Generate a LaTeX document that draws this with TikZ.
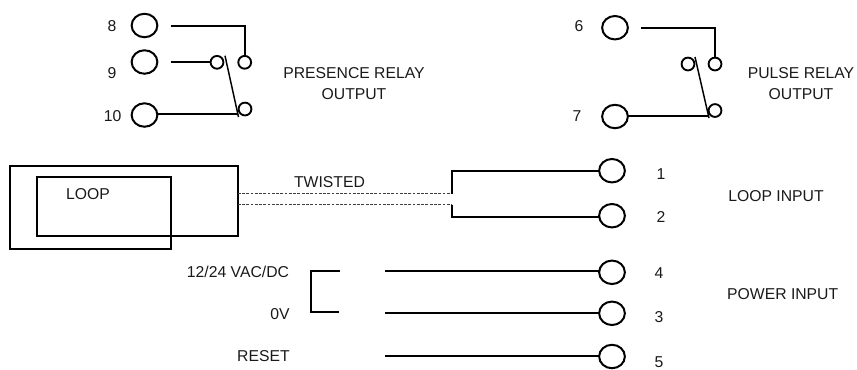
\documentclass[tikz,border=0pt]{standalone}
\usepackage{fontspec}
\setmainfont{Liberation Sans}
\usetikzlibrary{shapes.geometric}
\tikzset{
  x=0.75pt,y=-0.75pt,
  wire/.style={line width=1.5pt,line join=miter},
  thin wire/.style={line width=1.1pt},
  twisted/.style={line width=0.8pt,dash pattern=on 2.1pt off 1.1pt,draw=black!75},
  terminal/.style={draw,ellipse,line width=1.5pt,minimum width=19.3pt,minimum height=17.6pt,inner sep=0pt,outer sep=0pt},
  contact/.style={draw,circle,line width=1.4pt,minimum size=9.6pt,inner sep=0pt,outer sep=0pt},
  lbl/.style={font=\fontsize{11.8}{15.75}\selectfont,inner sep=0pt,outer sep=0pt,align=center,text=black!90},
}
\begin{document}
\begin{tikzpicture}
\useasboundingbox (0,0) rectangle (857,369);
% terminals
\node[terminal] (t8) at (144.5,25.5) {};
\node[terminal] (t9) at (144.5,62) {};
\node[terminal] (t10) at (144.5,115) {};
\node[terminal] (t6) at (615,27.7) {};
\node[terminal] (t7) at (615,116.5) {};
\node[terminal] (t1) at (612,170.7) {};
\node[terminal] (t2) at (612,215.7) {};
\node[terminal] (t4) at (612,272.3) {};
\node[terminal] (t3) at (612,313.3) {};
\node[terminal] (t5) at (612,356.5) {};
% contacts
\node[contact] (c8) at (244.7,62.3) {};
\node[contact] (c9) at (217,62.3) {};
\node[contact] (c10) at (245,109) {};
\node[contact] (c6) at (715,64) {};
\node[contact] (c6b) at (688,64) {};
\node[contact] (c7) at (715,110.5) {};
% free ends
\coordinate (s8) at (171,25.5);
\coordinate (s9) at (171,62.3);
\coordinate (e10) at (238,113.5);
\coordinate (a1) at (225,55.7);
\coordinate (a2) at (238.5,117);
\coordinate (s6) at (641,28);
\coordinate (e7) at (708.5,115.5);
\coordinate (b1) at (695,57);
\coordinate (b2) at (709,118);
\coordinate (j1) at (451.7,170.7);
\coordinate (j2) at (451.7,216.7);
\coordinate (d1) at (451.7,193.7);
\coordinate (d2) at (451.7,204.7);
\coordinate (l1) at (237.7,193.7);
\coordinate (l2) at (237.7,204.7);
\coordinate (p4) at (385,270.7);
\coordinate (p3) at (385,313.3);
\coordinate (p5) at (385,356);
\coordinate (b4) at (340,271);
\coordinate (b3) at (339,312);
% relay wires
\draw[wire] (s8) -| (c8.north);
\draw[wire] (s9) -- (c9.west);
\draw[wire] (t10.east |- e10) -- (e10);
\draw[thin wire] (a1) -- (a2);
\draw[wire] (s6) -| (c6.north);
\draw[wire] (t7.east |- e7) -- (e7);
\draw[thin wire] (b1) -- (b2);
% loop
\draw[wire] (10,165.7) -- (237.7,165.7) -- (237.7,236) -- (36.5,236) -- (36.5,176.7) -- (170.5,176.7) -- (170.5,249.3) -- (10,249.3) -- cycle;
\draw[twisted] (l1) -- (d1);
\draw[twisted] (l2) -- (d2);
\draw[wire] (d1) -- (j1) -- (t1.west);
\draw[wire] (d2) -- (j2) -- (t2.west |- j2);
% power
\draw[wire] (b4) -- (310.7,271) -- (310.7,312) -- (b3);
\draw[wire] (p4) -- (t4.west |- p4);
\draw[wire] (p3) -- (t3.west);
\draw[wire] (p5) -- (t5.west |- p5);
% labels
\node[lbl] (n8) at (112,25.7) {8};
\node[lbl] (n9) at (112,73) {9};
\node[lbl] (n10) at (112.7,115.7) {10};
\node[lbl] (n6) at (579,25.7) {6};
\node[lbl] (n7) at (577,115.7) {7};
\node[lbl] (n1) at (661,174) {1};
\node[lbl] (n2) at (661,216.5) {2};
\node[lbl] (n4) at (659,273) {4};
\node[lbl] (n3) at (659,316.7) {3};
\node[lbl] (n5) at (659,362) {5};
\node[lbl] (presence) at (354,83.5) {PRESENCE RELAY\\OUTPUT};
\node[lbl] (pulse) at (801,83.5) {PULSE RELAY\\OUTPUT};
\node[lbl] (loop) at (88,194) {LOOP};
\node[lbl] (tw) at (329.5,182) {TWISTED};
\node[lbl] (li) at (776,195.7) {LOOP INPUT};
\node[lbl] (pi) at (782.7,294) {POWER INPUT};
\node[lbl,anchor=east] (v12) at (289,271.7) {12/24 VAC/DC};
\node[lbl,anchor=east] (v0) at (289.7,314) {0V};
\node[lbl,anchor=east] (rst) at (289.7,356) {RESET};
\end{tikzpicture}
\end{document}
